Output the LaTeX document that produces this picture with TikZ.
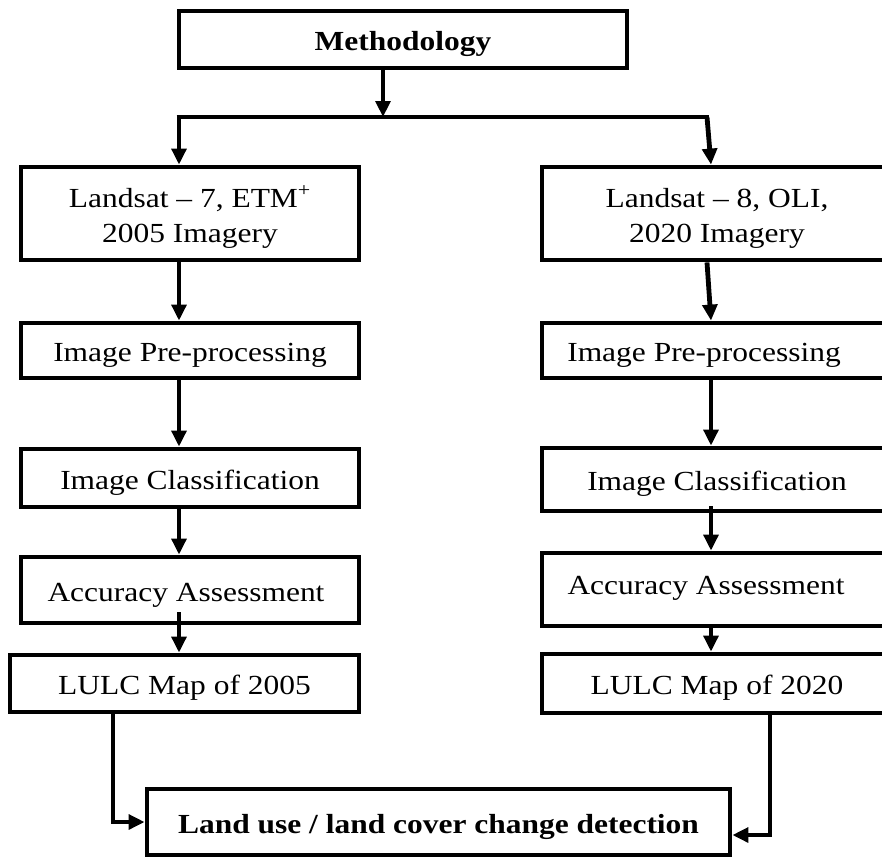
\documentclass[tikz,border=0pt]{standalone}
\usepackage{fontspec}
\setmainfont{Liberation Serif}[FakeStretch=1.14]
\usetikzlibrary{arrows.meta}
\begin{document}
\begin{tikzpicture}[x=0.75pt,y=-0.75pt,
  box/.style={draw, line width=3.6pt, inner sep=0pt, align=center,
    font=\fontsize{20.7}{26.25}\selectfont, text height=18.2pt, text depth=1.7pt},
  twoline/.style={text height=44.45pt, text depth=1.7pt},
  bbox/.style={box, font=\fontsize{20.7}{26.25}\selectfont\bfseries},
  conn/.style={line width=3.6pt},
  arr/.style={conn, -{Triangle[length=12pt,width=11pt]}}]
\useasboundingbox (0,0) rectangle (882,858);
\fill[white] (0,0) rectangle (882,858);
\clip (0,0) rectangle (882,858);

% boxes
\node[bbox, minimum width=336pt, minimum height=42.75pt] (meth) at (403,39.5) {Methodology};

\node[box, twoline, minimum width=253.5pt, minimum height=69.75pt] (lb1) at (190,213.5) {Landsat – 7, ETM\textsuperscript{+}\\2005 Imagery};
\node[box, minimum width=253.5pt, minimum height=41.25pt] (lb2) at (190,350.5) {Image Pre-processing};
\node[box, minimum width=253.5pt, minimum height=43.5pt] (lb3) at (190,478) {Image Classification};
\node[box, minimum width=253.5pt, minimum height=49.5pt] (lb4) at (190,590) {Accuracy Assessment\hspace*{6pt}};
\node[box, minimum width=261.75pt, minimum height=42.75pt] (lb5) at (184.5,683.5) {LULC Map of 2005};

\node[box, twoline, minimum width=262.5pt, minimum height=69.75pt] (rb1) at (717,213.5) {Landsat – 8, OLI,\\2020 Imagery};
\node[box, minimum width=262.5pt, minimum height=41.25pt] (rb2) at (717,350.5) {Image Pre-processing\hspace*{19.5pt}};
\node[box, minimum width=262.5pt, minimum height=47.25pt] (rb3) at (717,479.5) {Image Classification};
\node[box, minimum width=262.5pt, minimum height=54.75pt, text depth=10.7pt] (rb4) at (717,589.5) {Accuracy Assessment\hspace*{16.5pt}};
\node[box, minimum width=262.5pt, minimum height=44.25pt] (rb5) at (717,683.5) {LULC Map of 2020};

\node[bbox, minimum width=437.25pt, minimum height=49.5pt] (final) at (438.5,822) {Land use / land cover change detection};

% helper coordinates
\coordinate (mx) at (383,0);
\coordinate (jl) at (179,117);
\coordinate (jr) at (707,117);
\coordinate (lx) at (179,0);
\coordinate (rx) at (711,0);
\coordinate (rs) at (707,0);
\coordinate (l45) at (179,612);
\coordinate (r34) at (711,506);
\coordinate (blx) at (113,0);
\coordinate (brx) at (770,0);

% connectors
\draw[arr] (meth.south -| mx) -- (mx |- jl);
\draw[conn] ([xshift=-1.8pt]jl) -- ([xshift=1.8pt]jr);
\draw[arr] (jl) -- (lb1.north -| lx);
\draw[arr] (jr) -- (rb1.north -| rx);

\draw[arr] (lb1.south -| lx) -- (lb2.north -| lx);
\draw[arr] (lb2.south -| lx) -- (lb3.north -| lx);
\draw[arr] (lb3.south -| lx) -- (lb4.north -| lx);
\draw[arr] (l45) -- (lb5.north -| lx);

\draw[arr] (rb1.south -| rs) -- (rb2.north -| rx);
\draw[arr] (rb2.south -| rx) -- (rb3.north -| rx);
\draw[arr] (r34) -- (rb4.north -| rx);
\draw[arr] (rb4.south -| rx) -- (rb5.north -| rx);

\draw[arr] (lb5.south -| blx) |- (final.west);
\draw[arr] (rb5.south -| brx) |- ([yshift=-9.75pt]final.east);
\end{tikzpicture}
\end{document}
